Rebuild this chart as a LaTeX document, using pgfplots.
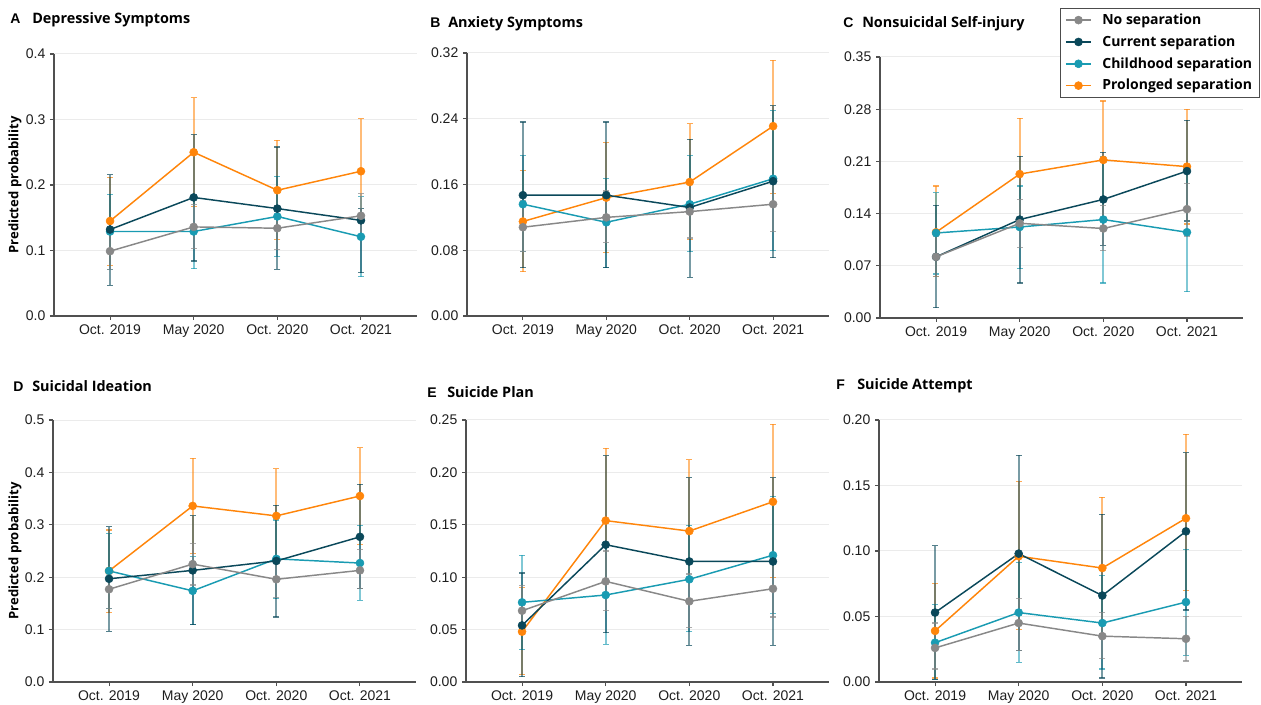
\documentclass[border=0pt]{standalone}
\usepackage{pgfplots}
\pgfplotsset{compat=1.18}
\usepackage{pgfplotstable}
\usepackage{fontspec}
\setmainfont{Liberation Sans}
\newfontfamily\osans{Open Sans}
\definecolor{cgray}{RGB}{136,136,136}
\definecolor{cdark}{RGB}{10,72,90}
\definecolor{cteal}{RGB}{25,155,178}
\definecolor{corange}{RGB}{255,133,10}
\definecolor{axisc}{RGB}{80,80,80}
\definecolor{gridc}{RGB}{235,235,235}
\definecolor{tickc}{RGB}{30,30,30}

% columns: n = No separation, c = Current, h = Childhood, p = Prolonged; y, lower CI, upper CI
\pgfplotstableread{
x ny nlo nhi cy clo chi hy hlo hhi py plo phi
0 0.099 0.071 0.135 0.132 0.047 0.216 0.129 0.071 0.186 0.145 0.077 0.212
1 0.136 0.103 0.170 0.181 0.084 0.277 0.129 0.072 0.183 0.250 0.167 0.333
2 0.134 0.101 0.168 0.164 0.071 0.258 0.152 0.091 0.213 0.192 0.117 0.268
3 0.153 0.123 0.187 0.146 0.066 0.164 0.121 0.060 0.182 0.221 0.150 0.301
}\tabA
\pgfplotstableread{
x ny nlo nhi cy clo chi hy hlo hhi py plo phi
0 0.108 0.078 0.140 0.147 0.059 0.236 0.136 0.078 0.195 0.115 0.054 0.177
1 0.120 0.089 0.152 0.147 0.059 0.236 0.114 0.059 0.167 0.144 0.077 0.211
2 0.127 0.095 0.160 0.132 0.047 0.215 0.136 0.078 0.195 0.163 0.093 0.234
3 0.136 0.103 0.170 0.164 0.071 0.256 0.167 0.080 0.250 0.231 0.149 0.311
}\tabB
\pgfplotstableread{
x ny nlo nhi cy clo chi hy hlo hhi py plo phi
0 0.082 0.056 0.109 0.082 0.014 0.151 0.114 0.059 0.168 0.115 0.056 0.177
1 0.127 0.095 0.159 0.132 0.047 0.217 0.122 0.066 0.177 0.193 0.120 0.268
2 0.120 0.090 0.151 0.159 0.097 0.222 0.132 0.047 0.217 0.212 0.132 0.291
3 0.146 0.110 0.180 0.197 0.130 0.265 0.115 0.035 0.195 0.203 0.126 0.280
}\tabC
\pgfplotstableread{
x ny nlo nhi cy clo chi hy hlo hhi py plo phi
0 0.177 0.141 0.215 0.197 0.097 0.296 0.212 0.141 0.283 0.212 0.132 0.290
1 0.225 0.185 0.264 0.213 0.109 0.317 0.174 0.109 0.240 0.336 0.245 0.427
2 0.196 0.162 0.230 0.231 0.124 0.337 0.235 0.159 0.309 0.317 0.228 0.407
3 0.213 0.178 0.253 0.277 0.178 0.377 0.227 0.156 0.299 0.355 0.263 0.447
}\tabD
\pgfplotstableread{
x ny nlo nhi cy clo chi hy hlo hhi py plo phi
0 0.068 0.045 0.092 0.054 0.005 0.104 0.076 0.031 0.121 0.048 0.007 0.090
1 0.096 0.068 0.125 0.131 0.047 0.216 0.083 0.036 0.131 0.154 0.095 0.223
2 0.077 0.052 0.103 0.115 0.035 0.195 0.098 0.048 0.149 0.144 0.100 0.212
3 0.089 0.062 0.118 0.115 0.035 0.195 0.121 0.065 0.177 0.172 0.100 0.246
}\tabE
\pgfplotstableread{
x ny nlo nhi cy clo chi hy hlo hhi py plo phi
0 0.026 0.010 0.045 0.053 0.002 0.104 0.030 0.002 0.059 0.039 0.003 0.075
1 0.045 0.024 0.064 0.098 0.024 0.173 0.053 0.015 0.091 0.096 0.040 0.153
2 0.035 0.018 0.053 0.066 0.003 0.128 0.045 0.010 0.081 0.087 0.034 0.141
3 0.033 0.016 0.050 0.115 0.055 0.175 0.061 0.020 0.101 0.125 0.070 0.189
}\tabF

\pgfplotsset{
  lbase/.style={line width=1.1pt, mark=*, mark size=3pt, mark options={solid, line width=0.4pt}},
  snl/.style={lbase, color=cgray},
  scl/.style={lbase, color=cdark},
  shl/.style={lbase, color=cteal},
  spl/.style={lbase, color=corange},
  ebase/.style={forget plot,
    error bars/y dir=both, error bars/y explicit,
    error bars/error bar style={line width=1.4pt, opacity=0.55, solid},
    error bars/error mark options={rotate=90, line width=0.9pt, mark size=2.2pt, opacity=0.7}},
  sn/.style={snl, ebase}, sc/.style={scl, ebase}, sh/.style={shl, ebase}, sp/.style={spl, ebase},
  panel/.style={
    scale only axis, anchor=south west,
    xmin=-0.67, xmax=3.67, xtick={0,1,2,3},
    xticklabels={Oct. 2019,May 2020,Oct. 2020,Oct. 2021},
    axis x line*=bottom, axis y line*=left,
    axis line style={draw=axisc, line width=1.1pt},
    tick align=outside, major tick length=3pt,
    tick style={draw=axisc, line width=0.8pt},
    ymajorgrids, major grid style={draw=gridc, line width=0.75pt},
    ymin=0, scaled y ticks=false,
    ticklabel style={font=\fontsize{10.5}{12}\selectfont, text=tickc},
    /pgf/number format/assume math mode=true,
    yticklabel style={/pgf/number format/fixed, /pgf/number format/fixed zerofill, /pgf/number format/precision=#1},
  },
}
\newcommand\series[3]{\addplot[#3] table[x=x, y=#2y, y error plus expr={\thisrow{#2hi}-\thisrow{#2y}}, y error minus expr={\thisrow{#2y}-\thisrow{#2lo}}] {#1};}
\newcommand\allseries[1]{\series{#1}{p}{sp}\series{#1}{h}{sh}\series{#1}{c}{sc}\series{#1}{n}{sn}}
\newcommand\lfont{\fontsize{10.5}{12}\selectfont\bfseries}
\newcommand\tfont{\osans\bfseries\fontsize{10.8}{13}\selectfont}

\begin{document}
\begin{tikzpicture}
\useasboundingbox (0,0) rectangle (945.75pt,-528.75pt);
% panel A
\begin{axis}[panel=1, at={(40.5pt,-237pt)}, width=272.25pt, height=196.5pt, ymax=0.4, ytick={0,0.1,0.2,0.3,0.4}]
\allseries{\tabA}
\end{axis}
% panel B
\begin{axis}[panel=2, at={(350.25pt,-237pt)}, width=271.5pt, height=197.25pt, ymax=0.32, ytick={0,0.08,0.16,0.24,0.32}]
\allseries{\tabB}
\end{axis}
% panel C
\begin{axis}[panel=2, at={(660pt,-238.5pt)}, width=272.25pt, height=195.75pt, ymax=0.35, ytick={0,0.07,0.14,0.21,0.28,0.35},
  legend style={at={(1.047,1.188)}, anchor=north east, draw=black!70, line width=0.8pt, fill=white,
    font=\osans\bfseries\fontsize{10.5}{12}\selectfont, inner xsep=3.5pt, inner ysep=2pt, row sep=2.9pt,
    /tikz/every odd column/.append style={column sep=6pt}},
  legend image code/.code={\draw[mark repeat=2, mark phase=2, #1] plot coordinates {(0pt,0pt) (9.4pt,0pt) (18.75pt,0pt)};},
  legend cell align=left]
\addlegendimage{snl}\addlegendentry{No separation}
\addlegendimage{scl}\addlegendentry{Current separation}
\addlegendimage{shl}\addlegendentry{Childhood separation}
\addlegendimage{spl}\addlegendentry{Prolonged separation}
\allseries{\tabC}
\end{axis}
% panel D
\begin{axis}[panel=1, at={(39.75pt,-511.5pt)}, width=272.25pt, height=196.5pt, ymax=0.5, ytick={0,0.1,0.2,0.3,0.4,0.5}]
\allseries{\tabD}
\end{axis}
% panel E
\begin{axis}[panel=2, at={(349.5pt,-511.5pt)}, width=272.25pt, height=196.5pt, ymax=0.25, ytick={0,0.05,0.1,0.15,0.2,0.25}]
\allseries{\tabE}
\end{axis}
% panel F
\begin{axis}[panel=2, at={(659.25pt,-511.5pt)}, width=272.25pt, height=196.5pt, ymax=0.2, ytick={0,0.05,0.1,0.15,0.2}]
\allseries{\tabF}
\end{axis}
% titles
\begin{scope}[every node/.style={anchor=base west, inner sep=0pt}]
\node[font=\lfont] at (7.5pt,-18pt) {A};
\node[font=\tfont] at (24pt,-18pt) {Depressive Symptoms};
\node[font=\lfont] at (322.5pt,-21pt) {B};
\node[font=\tfont] at (336pt,-21pt) {Anxiety Symptoms};
\node[font=\lfont] at (632.25pt,-21pt) {C};
\node[font=\tfont] at (646.5pt,-21pt) {Nonsuicidal Self-injury};
\node[font=\lfont] at (9.75pt,-294pt) {D};
\node[font=\tfont] at (24pt,-294pt) {Suicidal Ideation};
\node[font=\lfont] at (320.25pt,-298.5pt) {E};
\node[font=\tfont] at (335.25pt,-298.5pt) {Suicide Plan};
\node[font=\lfont] at (627pt,-292.5pt) {F};
\node[font=\tfont] at (642.75pt,-292.5pt) {Suicide Attempt};
\end{scope}
\node[rotate=90, font=\osans\bfseries\fontsize{9.8}{12}\selectfont] at (11.25pt,-138.75pt) {Predicted probability};
\node[rotate=90, font=\osans\bfseries\fontsize{9.8}{12}\selectfont] at (11.25pt,-413.25pt) {Predicted probability};
\end{tikzpicture}
\end{document}
